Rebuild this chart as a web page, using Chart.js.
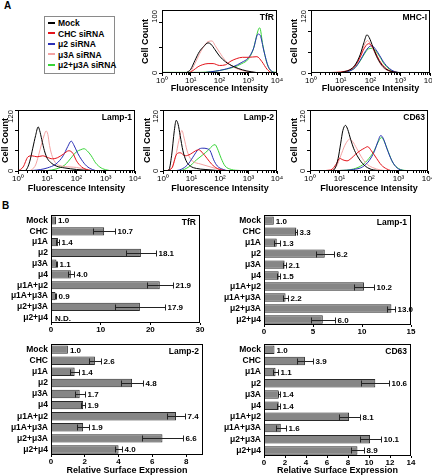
<!DOCTYPE html>
<html lang="en">
<head>
<meta charset="UTF-8" />
<title>siRNA knockdown - surface expression</title>
<script src="https://cdn.jsdelivr.net/npm/chart.js@4.4.0/dist/chart.umd.min.js"></script>
<style>
  body { margin: 0; background: #fff; }
  #fig { position: relative; width: 432px; height: 476px; overflow: hidden; font-family: "Liberation Sans", Arial, sans-serif; color: #000; }
  #fig canvas { position: absolute; }
  .letra { position: absolute; font-weight: bold; font-size: 10px; }
  #legenda { position: absolute; left: 44px; top: 16px; width: 71px; height: 58px; border: 1px solid #8a8a8a; box-sizing: border-box; padding-top: 1px; }
  #legenda div { height: 10.5px; line-height: 10.5px; font-size: 8.5px; font-weight: bold; white-space: nowrap; }
  #legenda span { display: inline-block; width: 7px; height: 2px; vertical-align: middle; margin: 0 3px 0 3px; position: relative; top: -1px; }
</style>
</head>
<body>
<div id="fig">
  <div class="letra" style="left:4px; top:0px;">A</div>
  <div class="letra" style="left:2px; top:200px;">B</div>
  <div id="legenda"></div>

  <canvas id="hTfR" width="149" height="95" style="left:140px; top:0px;"></canvas>
  <canvas id="hMHC" width="153" height="95" style="left:289px; top:0px;"></canvas>
  <canvas id="hLamp1" width="147" height="95" style="left:0px; top:100px;"></canvas>
  <canvas id="hLamp2" width="147" height="95" style="left:142px; top:100px;"></canvas>
  <canvas id="hCD63" width="151" height="95" style="left:289px; top:100px;"></canvas>

  <canvas id="bTfR" width="214" height="130" style="left:0px; top:207px;"></canvas>
  <canvas id="bLamp1" width="209" height="130" style="left:216px; top:207px;"></canvas>
  <canvas id="bLamp2" width="217" height="141" style="left:0px; top:336px;"></canvas>
  <canvas id="bCD63" width="209" height="141" style="left:216px; top:336px;"></canvas>
</div>

<script>
  // ---- panel A: histogram series (fluorescence intensity, cell count) ----
  const seriesNames = ["Mock", "CHC siRNA", "μ2 siRNA", "μ3A siRNA", "μ2+μ3A siRNA"];
  const seriesColors = ["#000000", "#e3141b", "#2a2fb5", "#f3a2a2", "#38d438"];

  const decadeValues = [1, 10, 100, 1000, 10000];
  const decadeLabels = ["10⁰", "10¹", "10²", "10³", "10⁴"];

  const tfrMock = [[1,0],[6,0],[8,2],[10,6],[14,20],[20,34],[28,42],[40,48],[50,46],[70,37],[100,27],[160,18],[320,10],[630,5],[1260,2],[3200,0],[10000,0]];
  const tfrChc = [[1,0],[8,0],[12,4],[18,10],[25,13],[40,15],[60,15],[100,12],[160,13],[250,19],[400,23],[630,25],[1000,25],[2000,26],[3000,18],[4500,6],[6300,1],[10000,0]];
  const tfrMu2 = [[1,0],[20,0],[50,2],[100,4],[300,10],[600,17],[1000,24],[1500,38],[2200,62],[2600,60],[3500,35],[5000,10],[7000,2],[10000,0]];
  const tfrMu3a = [[1,0],[8,0],[10,3],[14,15],[20,30],[28,42],[40,50],[55,51],[70,44],[100,33],[160,20],[320,9],[630,4],[1500,1],[3200,0],[10000,0]];
  const tfrMu2Mu3a = [[1,1],[20,1],[50,2],[100,4],[300,9],[600,15],[1000,22],[1500,38],[2200,68],[2500,72],[3200,45],[4500,15],[6300,3],[10000,1]];

  const mhcMock = [[1,0],[8,0],[12,2],[20,6],[30,15],[45,35],[60,58],[76,73],[90,68],[120,50],[160,32],[220,18],[320,8],[500,3],[800,1],[1200,0],[10000,0]];
  const mhcChc = [[1,0],[5,1],[10,2],[20,6],[30,13],[45,30],[60,46],[85,56],[110,52],[150,38],[200,24],[300,11],[500,3],[900,1],[10000,0]];
  const mhcMu2 = [[1,0],[10,1],[20,4],[30,10],[45,24],[65,40],[90,50],[110,52],[150,45],[200,34],[300,18],[500,6],[900,1],[10000,0]];
  const mhcMu3a = [[1,0],[10,1],[20,5],[30,14],[45,32],[60,52],[80,62],[100,55],[130,42],[180,25],[250,12],[400,4],[700,1],[1200,0],[10000,0]];
  const mhcMu2Mu3a = [[1,1],[10,1],[20,4],[30,10],[45,23],[65,38],[85,46],[110,47],[150,42],[200,32],[300,16],[500,5],[900,1],[10000,1]];

  const lamp1Mock = [[1,0],[1.6,0],[2,4],[2.5,18],[3.2,45],[4,70],[4.9,87],[5.5,80],[6.5,62],[8,40],[10,25],[13,17],[20,10],[40,6],[100,3],[250,1],[600,0],[10000,0]];
  const lamp1Chc = [[1,0],[1.5,8],[2.2,28],[3,30],[4.5,28],[7,30],[10,27],[15,24],[22,26],[35,33],[55,40],[75,35],[100,20],[150,8],[250,2],[500,0],[10000,0]];
  const lamp1Mu2 = [[1,0],[3,1],[6,3],[10,6],[20,14],[35,30],[50,48],[66,59],[80,52],[110,35],[150,22],[220,10],[350,3],[600,0],[10000,0]];
  const lamp1Mu3a = [[1,0],[2,0],[3,3],[4,12],[5,30],[6.5,55],[8,72],[9.1,79],[10.5,72],[12,50],[15,28],[20,15],[30,10],[60,8],[100,7],[150,5],[300,2],[600,0],[10000,0]];
  const lamp1Mu2Mu3a = [[1,0],[10,1],[20,4],[40,12],[70,28],[100,38],[140,42],[180,44],[230,40],[320,30],[450,16],[700,6],[1100,2],[2000,0],[10000,0]];

  const lamp2Mock = [[1,0],[1.6,2],[2,30],[2.5,80],[2.9,100],[3.4,92],[4,70],[5,40],[6.5,20],[9,10],[15,5],[30,3],[80,1],[200,0],[10000,0]];
  const lamp2Chc = [[1,0],[2,5],[3,33],[4,36],[6,30],[9,33],[14,40],[18,42],[25,35],[35,25],[50,14],[80,5],[150,1],[300,0],[10000,0]];
  const lamp2Mu2 = [[1,0],[3,1],[5,5],[8,15],[12,30],[17,42],[25,45],[35,44],[45,40],[60,22],[80,10],[130,3],[250,0],[10000,0]];
  const lamp2Mu3a = [[1,0],[2,5],[2.8,30],[3.6,60],[4.6,80],[5.5,65],[7,40],[9,25],[12,18],[20,14],[35,10],[70,5],[150,1],[300,0],[10000,0]];
  const lamp2Mu2Mu3a = [[1,0],[4,1],[8,8],[15,22],[25,32],[40,42],[55,50],[67,52],[80,45],[110,25],[150,10],[250,3],[500,1],[1000,0],[10000,0]];

  const cd63Mock = [[1,0],[5,0],[7,5],[9,25],[11,55],[13,80],[16,90],[19,82],[24,62],[30,45],[40,30],[60,15],[100,5],[200,1],[400,0],[10000,0]];
  const cd63Chc = [[1,0],[5,2],[8,15],[10,25],[13,22],[18,20],[25,25],[35,33],[50,40],[70,45],[90,48],[120,40],[180,25],[260,12],[400,4],[700,0],[10000,0]];
  const cd63Mu2 = [[1,0],[10,1],[30,3],[60,8],[100,20],[150,38],[200,58],[250,70],[300,65],[400,45],[600,20],[900,6],[1500,1],[3000,0],[10000,0]];
  const cd63Mu3a = [[1,0],[5,1],[8,10],[11,30],[15,50],[19,60],[22,63],[28,58],[38,45],[55,28],[80,15],[130,7],[250,2],[500,0],[10000,0]];
  const cd63Mu2Mu3a = [[1,0],[10,1],[30,4],[60,12],[100,25],[150,40],[200,56],[260,66],[320,60],[450,38],[650,16],[1000,5],[1800,1],[10000,0]];

  // ---- panel B: relative surface expression ----
  const categories = ["Mock", "CHC", "μ1A", "μ2", "μ3A", "μ4", "μ1A+μ2", "μ1A+μ3A", "μ2+μ3A", "μ2+μ4"];
  const tfrVals = [1.0, 10.7, 1.4, 18.1, 1.1, 4.0, 21.9, 0.9, 17.9, null];
  const tfrErr = [0, 2.2, 0.3, 3.0, 0.1, 0.6, 2.6, 0.1, 5.0, null];
  const lamp1Vals = [1.0, 3.3, 1.3, 6.2, 2.1, 1.5, 10.2, 2.2, 13.0, 6.0];
  const lamp1Err = [0, 0.1, 0.3, 0.9, 0.15, 0.15, 1.0, 0.25, 0.4, 1.2];
  const lamp2Vals = [1.0, 2.6, 1.4, 4.8, 1.7, 1.9, 7.4, 1.9, 6.6, 4.0];
  const lamp2Err = [0, 0.35, 0.25, 0.65, 0.3, 0.1, 0.55, 0.35, 1.2, 0.2];
  const cd63Vals = [1.0, 3.9, 1.1, 10.6, 1.4, 1.4, 8.1, 1.6, 10.1, 8.9];
  const cd63Err = [0, 0.8, 0.2, 1.35, 0.1, 0.15, 1.0, 0.5, 1.0, 0.6];

  const fonte = "'Liberation Sans', Arial, sans-serif";
  Chart.defaults.font.family = fonte;
  Chart.defaults.color = "#000";

  // legenda em HTML
  const legenda = document.getElementById("legenda");
  for (let i = 0; i < seriesNames.length; i++) {
    legenda.innerHTML += `<div><span style="background:${seriesColors[i]}"></span>${seriesNames[i]}</div>`;
  }

  // moldura preta em volta da area do grafico
  const boxPlugin = {
    id: "box",
    afterDatasetsDraw(chart) {
      const { ctx, chartArea: a } = chart;
      ctx.save();
      ctx.strokeStyle = "#000";
      ctx.lineWidth = 1;
      ctx.strokeRect(Math.round(a.left) + 0.5, Math.round(a.top) + 0.5, Math.round(a.right - a.left) - 1, Math.round(a.bottom - a.top) - 1);
      ctx.restore();
    },
  };

  const histDeco = {
    id: "histDeco",
    afterDraw(chart, args, opts) {
      const { ctx, chartArea: a, scales: { x, y } } = chart;
      ctx.save();
      ctx.strokeStyle = "#000";
      ctx.lineWidth = 1;
      // minor ticks on the log axis
      for (const d of [1, 10, 100, 1000]) {
        for (let m = 2; m < 10; m++) {
          const px = Math.round(x.getPixelForValue(d * m)) + 0.5;
          ctx.beginPath();
          ctx.moveTo(px, a.bottom);
          ctx.lineTo(px, a.bottom + 2);
          ctx.stroke();
        }
      }
      // rotated y labels (only 0 and max)
      ctx.fillStyle = "#000";
      ctx.font = "7.5px " + fonte;
      ctx.textBaseline = "middle";
      const lx = a.left - 7;
      ctx.save();
      ctx.translate(lx, y.getPixelForValue(0));
      ctx.rotate(-Math.PI / 2);
      ctx.textAlign = "center";
      ctx.fillText("0", 0, 0);
      ctx.restore();
      ctx.save();
      ctx.translate(lx, y.getPixelForValue(y.max));
      ctx.rotate(-Math.PI / 2);
      ctx.textAlign = "right";
      ctx.fillText(String(y.max), 0, 0);
      ctx.restore();
      // titulo do painel
      ctx.font = "bold 8.5px " + fonte;
      ctx.textAlign = "right";
      ctx.textBaseline = "top";
      ctx.fillText(opts.title, a.right - 3, a.top + 3);
      ctx.restore();
    },
  };

  function makeHist(id, title, yMax, yW, xH, padTop, curves) {
    new Chart(document.getElementById(id), {
      type: "line",
      data: {
        datasets: curves.map((c, i) => ({
          label: seriesNames[i],
          data: c.map((p) => ({ x: p[0], y: p[1] })),
          borderColor: seriesColors[i],
          borderWidth: 1,
          pointRadius: 0,
          cubicInterpolationMode: "monotone",
          fill: false,
        })),
      },
      options: {
        responsive: false,
        animation: false,
        layout: { padding: { top: padTop, right: 12, left: 0, bottom: 0 } },
        plugins: { legend: { display: false }, tooltip: { enabled: false }, histDeco: { title: title } },
        scales: {
          x: {
            type: "logarithmic",
            min: 1,
            max: 10000,
            afterBuildTicks: (s) => { s.ticks = decadeValues.map((v) => ({ value: v })); },
            afterFit: (s) => { s.height = xH; },
            ticks: {
              callback: (v, i) => decadeLabels[i],
              font: { size: 8 },
              padding: 0,
              maxRotation: 0,
              autoSkip: false,
            },
            grid: { drawOnChartArea: false, tickLength: 3, color: "#000" },
            border: { display: false },
            title: { display: true, text: "Fluorescence Intensity", font: { size: 9, weight: "bold" }, padding: { top: 0, bottom: 1 } },
          },
          y: {
            min: 0,
            max: yMax,
            ticks: { stepSize: 20, callback: () => "" },
            afterFit: (s) => { s.width = yW; },
            grid: { drawOnChartArea: false, tickLength: 3, color: "#000" },
            border: { display: false },
            title: { display: true, text: "Cell Count", font: { size: 9, weight: "bold" }, padding: 0 },
          },
        },
      },
      plugins: [boxPlugin, histDeco],
    });
  }

  const barDeco = {
    id: "barDeco",
    afterDatasetsDraw(chart, args, opts) {
      const { ctx, chartArea: a, scales: { x, y } } = chart;
      const vals = chart.data.datasets[0].data;
      ctx.save();
      ctx.strokeStyle = "#222";
      ctx.fillStyle = "#000";
      ctx.lineWidth = 1;
      ctx.font = "bold 8px " + fonte;
      ctx.textBaseline = "middle";
      ctx.textAlign = "left";
      for (let i = 0; i < vals.length; i++) {
        const yc = Math.round(y.getPixelForValue(i)) + 0.5;
        if (vals[i] === null) {
          ctx.fillText("N.D.", x.getPixelForValue(0) + 4, yc);
          continue;
        }
        const e = opts.errors[i];
        const end = x.getPixelForValue(vals[i]);
        let hi = end;
        if (e > 0) {
          const lo = Math.round(x.getPixelForValue(vals[i] - e)) + 0.5;
          hi = Math.round(x.getPixelForValue(vals[i] + e)) + 0.5;
          ctx.beginPath();
          ctx.moveTo(lo, yc);
          ctx.lineTo(hi, yc);
          ctx.moveTo(lo, yc - 3);
          ctx.lineTo(lo, yc + 3);
          ctx.moveTo(hi, yc - 3);
          ctx.lineTo(hi, yc + 3);
          ctx.stroke();
        }
        ctx.fillText(vals[i].toFixed(1), hi + 2, yc);
      }
      ctx.font = "bold 8.5px " + fonte;
      ctx.textAlign = "right";
      ctx.textBaseline = "top";
      ctx.fillText(opts.title, a.right - 4, a.top + 3);
      ctx.restore();
    },
  };

  function makeBars(id, title, vals, errs, xMax, step, yW, xH, padTop, showTitle) {
    new Chart(document.getElementById(id), {
      type: "bar",
      data: {
        labels: categories,
        datasets: [{
          data: vals,
          backgroundColor: "#868686",
          borderColor: "#2a2a2a",
          borderWidth: 1,
          barPercentage: 0.76,
          categoryPercentage: 1,
        }],
      },
      options: {
        indexAxis: "y",
        responsive: false,
        animation: false,
        layout: { padding: { top: padTop, right: 14, left: 0, bottom: 0 } },
        plugins: { legend: { display: false }, tooltip: { enabled: false }, barDeco: { title: title, errors: errs } },
        scales: {
          x: {
            min: 0,
            max: xMax,
            ticks: { stepSize: step, includeBounds: false, font: { size: 8, weight: "bold" }, padding: 0, maxRotation: 0 },
            grid: { drawOnChartArea: false, tickLength: 2, color: "#000" },
            border: { display: false },
            afterFit: (s) => { s.height = xH; },
            title: { display: showTitle, text: "Relative Surface Expression", font: { size: 9, weight: "bold" }, padding: { top: 0, bottom: 1 } },
          },
          y: {
            ticks: { font: { size: 8.5, weight: "bold" }, padding: 3, autoSkip: false },
            grid: { drawOnChartArea: false, drawTicks: false },
            border: { display: false },
            afterFit: (s) => { s.width = yW; },
          },
        },
      },
      plugins: [boxPlugin, barDeco],
    });
  }

  // ordem: Mock, CHC, mu2, mu3A, mu2+mu3A
  makeHist("hTfR", "TfR", 100, 22, 22, 9, [tfrMock, tfrChc, tfrMu2, tfrMu3a, tfrMu2Mu3a]);
  makeHist("hMHC", "MHC-I", 120, 22, 22, 8, [mhcMock, mhcChc, mhcMu2, mhcMu3a, mhcMu2Mu3a]);
  makeHist("hLamp1", "Lamp-1", 120, 18, 24, 10, [lamp1Mock, lamp1Chc, lamp1Mu2, lamp1Mu3a, lamp1Mu2Mu3a]);
  makeHist("hLamp2", "Lamp-2", 120, 21, 24, 9, [lamp2Mock, lamp2Chc, lamp2Mu2, lamp2Mu3a, lamp2Mu2Mu3a]);
  makeHist("hCD63", "CD63", 120, 21, 24, 9, [cd63Mock, cd63Chc, cd63Mu2, cd63Mu3a, cd63Mu2Mu3a]);

  makeBars("bTfR", "TfR", tfrVals, tfrErr, 30, 10, 51, 14, 8, false);
  makeBars("bLamp1", "Lamp-1", lamp1Vals, lamp1Err, 15, 5, 48, 12, 7, false);
  makeBars("bLamp2", "Lamp-2", lamp2Vals, lamp2Err, 9, 2, 51, 22, 7, true);
  makeBars("bCD63", "CD63", cd63Vals, cd63Err, 14, 2, 48, 21, 8, true);
</script>
</body>
</html>
